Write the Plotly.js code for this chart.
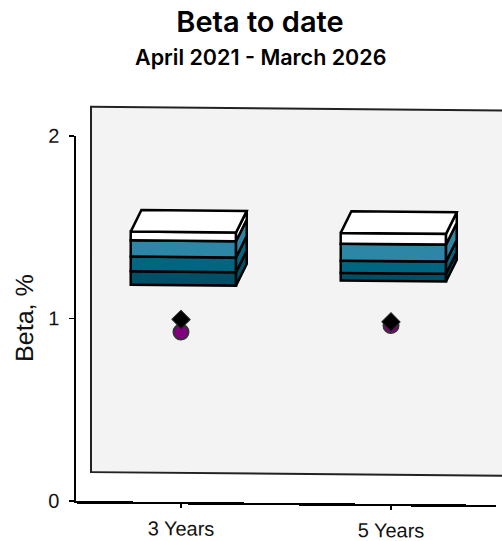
<!DOCTYPE html>
<html><head><meta charset="utf-8">
<script src="https://cdn.plot.ly/plotly-3.0.1.min.js"></script>
<style>html,body{margin:0;padding:0;background:#fff;overflow:hidden;width:502px;height:541px}
#chart{width:502px;height:541px;transform:matrix(1,0.009,0,1,0,0);transform-origin:76px 0}</style>
</head><body><div id="chart"></div>
<script>
const categories = ['3 Years', '5 Years'];
// band edges, bottom to top
const edge0 = [1.188, 1.221];
const edge1 = [1.261, 1.263];
const edge2 = [1.342, 1.330];
const edge3 = [1.431, 1.423];
const edge4 = [1.479, 1.482];
const circleValues = [0.931, 0.977];
const diamondValues = [1.000, 0.997];
const bandColors = ['#004f66', '#006580', '#2e86a6', '#ffffff'];
const edges = [edge0, edge1, edge2, edge3, edge4];
const idx = [0, 1];

const OFF = -0.2395, W = 0.5015, DX = 0.051, DY = 0.119;
const traces = [];
// front faces
bandColors.forEach((c, b) => {
  traces.push({type: 'bar', x: idx, base: edges[b], y: idx.map(i => edges[b + 1][i] - edges[b][i]),
    width: W, offset: OFF, marker: {color: c, line: {color: '#000', width: 2.5}}, hoverinfo: 'skip'});
});
// side and top faces
idx.forEach(i => {
  const r = i + OFF + W, l = i + OFF;
  bandColors.forEach((c, b) => {
    const v0 = edges[b][i], v1 = edges[b + 1][i];
    traces.push({type: 'scatter', mode: 'lines', fill: 'toself', fillcolor: c,
      x: [r, r + DX, r + DX, r, r], y: [v0, v0 + DY, v1 + DY, v1, v0],
      line: {color: '#000', width: 2.5}, hoverinfo: 'skip'});
  });
  const t = edges[4][i];
  traces.push({type: 'scatter', mode: 'lines', fill: 'toself', fillcolor: '#ffffff',
    x: [l, l + DX, r + DX, r, l], y: [t, t + DY, t + DY, t, t],
    line: {color: '#000', width: 2.5}, hoverinfo: 'skip'});
});
traces.push({type: 'scatter', mode: 'markers', x: idx, y: circleValues,
  marker: {symbol: 'circle', size: 15, color: '#800080', line: {color: '#333', width: 2}}, hoverinfo: 'skip'});
traces.push({type: 'scatter', mode: 'markers', x: idx, y: diamondValues,
  marker: {symbol: 'diamond', size: 14, color: '#000', line: {color: '#222', width: 1}}, hoverinfo: 'skip'});

const layout = {
  width: 502, height: 541, showlegend: false, barmode: 'overlay',
  paper_bgcolor: 'rgba(0,0,0,0)', plot_bgcolor: 'rgba(0,0,0,0)',
  margin: {l: 76, r: 6, t: 136, b: 40.3},
  title: {text: 'Beta to date', x: 260 / 502, xanchor: 'center', y: 0.963, yanchor: 'middle',
    font: {family: 'Inter', size: 29, color: '#000', weight: 600}},
  annotations: [{text: 'April 2021 - March 2026', xref: 'paper', yref: 'paper',
    x: (260 - 76) / 420, y: (500.7 - 55) / 364.7, xanchor: 'center', yanchor: 'middle', showarrow: false,
    font: {family: 'Inter', size: 21.5, color: '#000', weight: 600}}],
  xaxis: {type: 'linear', range: [-0.5, 1.5], tickmode: 'array', tickvals: idx, ticktext: categories,
    showgrid: false, zeroline: false, showline: true, linecolor: '#000', linewidth: 2.5,
    ticks: 'outside', ticklen: 4, tickcolor: '#000', tickwidth: 1.5, ticklabelstandoff: 3,
    tickfont: {family: 'Liberation Sans', size: 20, color: '#111'}},
  yaxis: {range: [0, 2], tickmode: 'array', tickvals: [0, 1, 2], showgrid: false, zeroline: false,
    showline: true, linecolor: '#000', linewidth: 2.5,
    ticks: 'outside', ticklen: 5, tickcolor: '#000', tickwidth: 1.5, ticklabelstandoff: 5,
    tickfont: {family: 'Liberation Sans', size: 20, color: '#111'},
    title: {text: 'Beta, %', standoff: 8, font: {family: 'Liberation Sans', size: 25, color: '#111'}}},
  shapes: [{type: 'rect', layer: 'below', xref: 'paper', yref: 'paper',
    x0: 0.0357, x1: 1.2, y0: 0.0795, y1: 1.0803,
    fillcolor: '#f3f3f3', line: {color: '#222', width: 2}}]
};
Plotly.newPlot('chart', traces, layout, {displayModeBar: false, staticPlot: true}).then(() => {
  document.querySelectorAll('#chart .g-gtitle, #chart .annotation').forEach(g => {
    g.style.transformOrigin = '260px 0';
    g.style.transform = 'matrix(1,-0.009,0,1,0,0)';
  });
});
</script></body></html>
